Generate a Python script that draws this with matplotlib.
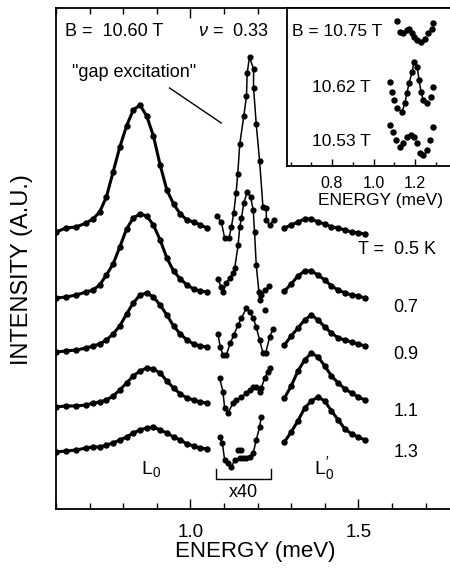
import matplotlib.pyplot as plt
from matplotlib.ticker import MultipleLocator

plt.rcParams['font.family'] = ['Liberation Sans', 'DejaVu Sans']
plt.rcParams['mathtext.fontset'] = 'custom'
plt.rcParams['mathtext.rm'] = 'Liberation Sans'
plt.rcParams['mathtext.it'] = 'Liberation Sans:italic'

# ---- energias (meV) ----
e_l0 = [0.60, 0.63, 0.66, 0.69, 0.71, 0.73, 0.75, 0.77, 0.79, 0.81, 0.83,
        0.85, 0.87, 0.89, 0.91, 0.93, 0.95, 0.97, 0.99, 1.01, 1.03, 1.05]
e_l0p = [1.28, 1.30, 1.32, 1.34, 1.36, 1.38, 1.40, 1.42, 1.44, 1.46, 1.48, 1.50, 1.52]

temps = ["T =  0.5 K", "0.7", "0.9", "1.1", "1.3"]

# ---- pico L0 (intensidad con desplazamiento) ----
l0_05 = [277, 281, 282, 286, 290, 297, 312, 337, 362, 383, 399, 404, 393, 373, 344, 319, 305, 295, 289, 287, 284, 281]
l0_07 = [211, 212, 214, 217, 219, 224, 234, 245, 262, 280, 291, 295, 293, 284, 269, 251, 238, 230, 224, 220, 218, 217]
l0_09 = [157, 158, 159, 161, 163, 165, 169, 175, 183, 195, 206, 214, 216, 212, 204, 194, 183, 175, 169, 165, 163, 162]
l0_11 = [102, 103, 103, 104, 106, 107, 109, 113, 119, 126, 133, 138, 141, 140, 136, 128, 121, 115, 111, 109, 107, 106]
l0_13 = [57, 58, 59, 61, 62, 62, 64, 66, 69, 72, 76, 79, 81, 82, 79, 76, 72, 69, 65, 63, 61, 60]

# ---- pico L0' ----
l0p_05 = [281, 284, 287, 290, 290, 287, 285, 282, 281, 279, 277, 276, 275]
l0p_07 = [218, 225, 233, 238, 238, 234, 229, 223, 219, 216, 214, 213, 211]
l0p_09 = [164, 173, 181, 189, 194, 189, 182, 176, 171, 169, 167, 165, 163]
l0p_11 = [111, 123, 138, 149, 156, 152, 143, 133, 126, 120, 116, 112, 109]
l0p_13 = [67, 77, 88, 101, 108, 112, 108, 98, 89, 80, 75, 72, 69]

# ---- "gap excitation" (x40) ----
eg_05 = [1.080, 1.092, 1.102, 1.115, 1.122, 1.129, 1.136, 1.141, 1.147, 1.159, 1.167,
         1.169, 1.176, 1.188, 1.188, 1.196, 1.206, 1.216, 1.226, 1.226, 1.236, 1.248]
g_05 = [293, 287, 271, 271, 282, 296, 316, 335, 365, 393, 413, 436, 452, 440, 421, 385, 348, 302, 301, 289, 284, 289]
eg_07 = [1.082, 1.092, 1.098, 1.107, 1.117, 1.127, 1.132, 1.142, 1.147, 1.152, 1.159,
         1.169, 1.179, 1.187, 1.191, 1.196, 1.204, 1.206, 1.211, 1.221, 1.235]
g_07 = [230, 222, 217, 226, 231, 236, 241, 264, 282, 291, 306, 317, 312, 299, 277, 244, 217, 209, 214, 219, 223]
eg_09 = [1.082, 1.089, 1.097, 1.107, 1.119, 1.129, 1.142, 1.152, 1.167, 1.176, 1.187,
         1.196, 1.206, 1.216, 1.224, 1.236, 1.246]
g_09 = [175, 162, 154, 154, 166, 174, 184, 191, 201, 197, 191, 182, 169, 156, 156, 172, 180]
eg_11 = [1.087, 1.097, 1.102, 1.112, 1.127, 1.137, 1.152, 1.167, 1.176, 1.187, 1.196,
         1.206, 1.211, 1.221, 1.231, 1.238]
g_11 = [131, 117, 101, 96, 106, 109, 112, 116, 119, 122, 122, 117, 121, 131, 137, 141]
eg_13 = [1.087, 1.095, 1.102, 1.112, 1.122, 1.132, 1.147, 1.157, 1.167, 1.176, 1.187,
         1.196, 1.206, 1.211]
g_13 = [72, 66, 49, 46, 42, 49, 51, 51, 51, 52, 56, 69, 82, 92]
# puntos sueltos
eg_extra = [1.221, 1.142, 1.150]
g_extra = [199, 59, 59]

# ---- recuadro: distintos campos B ----
e_b1075 = [1.113, 1.128, 1.142, 1.161, 1.171, 1.186, 1.195, 1.210, 1.229, 1.248, 1.263, 1.282, 1.287]
b1075 = [145, 134, 133, 136, 137, 133, 129, 126, 124, 127, 133, 137, 143]
e_b1062 = [1.080, 1.089, 1.099, 1.113, 1.137, 1.151, 1.161, 1.171, 1.186, 1.195, 1.210,
           1.219, 1.229, 1.239, 1.258, 1.277, 1.287]
b1062 = [84, 74, 66, 58, 54, 63, 73, 83, 94, 104, 99, 86, 74, 66, 63, 69, 79]
e_b1053 = [1.080, 1.094, 1.108, 1.128, 1.142, 1.161, 1.181, 1.195, 1.210, 1.224, 1.239, 1.258, 1.272, 1.287]
b1053 = [41, 34, 26, 19, 23, 29, 31, 29, 23, 13, 11, 16, 26, 39]

#######################################
fig = plt.figure(figsize=(4.5, 5.71), dpi=100)
ax = fig.add_axes([0.1244, 0.1086, 0.896, 0.8774])

l0s = [l0_05, l0_07, l0_09, l0_11, l0_13]
l0ps = [l0p_05, l0p_07, l0p_09, l0p_11, l0p_13]
egs = [eg_05, eg_07, eg_09, eg_11, eg_13]
gs = [g_05, g_07, g_09, g_11, g_13]
ylab = [259, 201, 154, 97, 56]

for i in range(5):
    ax.plot(e_l0, l0s[i], '-o', color='k', ms=3.6, lw=2.2)
    ax.plot(e_l0p, l0ps[i], '-o', color='k', ms=3.6, lw=2.2)
    ax.plot(egs[i], gs[i], '-o', color='k', ms=3.4, lw=1.1)
    xt = 1.5 if i == 0 else 1.604
    ax.text(xt, ylab[i], temps[i], fontsize=13, va='center', ha='left')
ax.plot(eg_extra, g_extra, 'o', color='k', ms=3.4)

ax.text(0.627, 477, "B =  10.60 T", fontsize=13, va='center')
ax.text(1.024, 477, r"$\nu$ =  0.33", fontsize=13, va='center')
ax.text(0.648, 436, '"gap excitation"', fontsize=13, va='center')
ax.plot([0.938, 1.092], [421, 386], 'k-', lw=1)
ax.text(0.884, 40, r"$\mathrm{L}_0$", fontsize=14, ha='center', va='center')
ax.text(1.399, 40, r"$\mathrm{L}_0^{\prime}$", fontsize=14, ha='center', va='center')
ax.plot([1.077, 1.077, 1.241, 1.241], [40, 30, 30, 40], 'k-', lw=1)
ax.text(1.158, 16, "x40", fontsize=13, ha='center', va='center')

ax.set_xlim(0.6, 1.8)
ax.set_ylim(0, 501)
ax.set_yticks([])
ax.set_xticks([1.0, 1.5])
ax.set_xticklabels(["1.0", "1.5"])
ax.xaxis.set_minor_locator(MultipleLocator(0.1))
ax.tick_params(axis='x', which='both', direction='in', top=True, width=1, labelsize=13.5, pad=11)
ax.tick_params(axis='x', which='major', length=7)
ax.tick_params(axis='x', which='minor', length=4)
for s in ax.spines.values():
    s.set_linewidth(1.3)

fig.text(255 / 450, 1 - 552 / 571, "ENERGY (meV)", fontsize=16, ha='center', va='center')
fig.text(22 / 450, 1 - 270 / 571, "INTENSITY (A.U.)", fontsize=17, ha='center', va='center', rotation=90)

# recuadro
ax2 = fig.add_axes([0.6378, 0.7093, 0.369, 0.2767])
ax2.plot(e_b1075, b1075, 'o', color='k', ms=3.6)
ax2.plot(e_b1062, b1062, 'o', color='k', ms=3.6)
ax2.plot(e_b1062[3:15], b1062[3:15], '-', color='k', lw=1.1)
ax2.plot(e_b1053, b1053, 'o', color='k', ms=3.6)
ax2.text(0.605, 134, "B = 10.75 T", fontsize=12.5, va='center')
ax2.text(0.705, 78, "10.62 T", fontsize=12.5, va='center')
ax2.text(0.705, 24, "10.53 T", fontsize=12.5, va='center')
ax2.set_xlim(0.583, 1.383)
ax2.set_ylim(0, 158)
ax2.set_yticks([])
ax2.set_xticks([0.8, 1.0, 1.2])
ax2.set_xticklabels(["0.8", "1.0", "1.2"])
ax2.xaxis.set_minor_locator(MultipleLocator(0.1))
ax2.tick_params(axis='x', which='both', direction='in', width=1, labelsize=11.5, pad=7)
ax2.tick_params(axis='x', which='major', length=5)
ax2.tick_params(axis='x', which='minor', length=3)
for s in ax2.spines.values():
    s.set_linewidth(1.3)
fig.text(381 / 450, 1 - 200 / 571, "ENERGY (meV)", fontsize=12.5, ha='center', va='center')

plt.savefig("out.png", dpi=100)
